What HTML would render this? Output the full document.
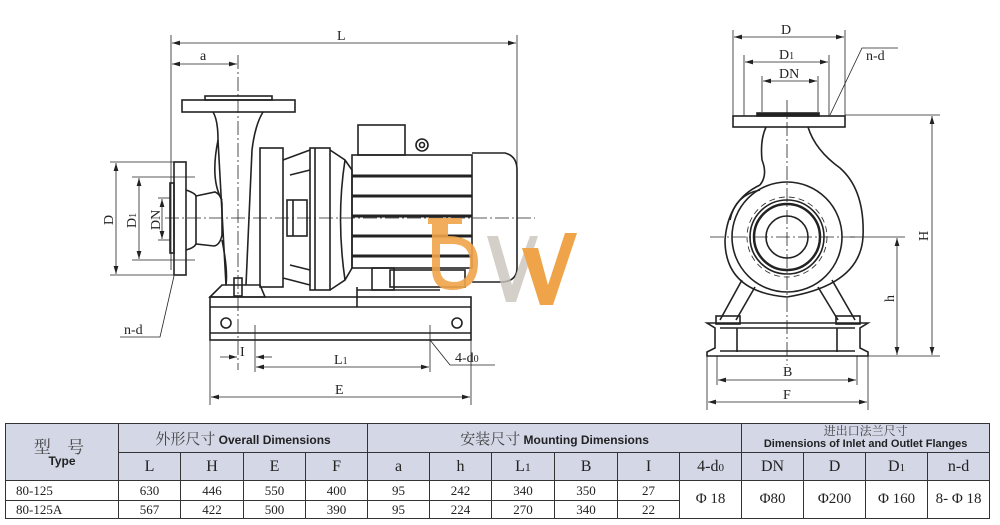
<!DOCTYPE html>
<html><head><meta charset="utf-8"><style>
body{margin:0;background:#fff;width:1000px;height:525px;overflow:hidden;position:relative;font-family:"Liberation Serif","Noto Serif CJK SC",serif}
svg{position:absolute;left:0;top:0}
table{position:absolute;left:5px;top:423px;border-collapse:collapse;width:985px;table-layout:fixed}
td{border:1.5px solid #333;text-align:center;padding:0;font-size:13px;color:#222;line-height:1}
.h{background:#d3d7e6}
.s{font-family:"Liberation Sans","Noto Sans CJK SC",sans-serif;font-weight:bold;font-size:12px}
.c{font-family:"Noto Serif CJK SC",serif;font-size:14px;font-weight:normal;color:#444}
</style></head><body>
<svg width="1000" height="420" viewBox="0 0 1000 420" fill="none" stroke="#222" stroke-width="1" font-family="Liberation Serif, serif" font-size="14">
<defs><marker id="a" markerWidth="10" markerHeight="6" refX="10" refY="3" orient="auto-start-reverse"><path d="M0,0L10,3L0,6z" fill="#222" stroke="none"/></marker></defs>
<g stroke-width="0.8">
<!-- L / a -->
<line x1="171" y1="35" x2="171" y2="270"/><line x1="517" y1="35" x2="517" y2="200"/>
<line x1="172" y1="43" x2="516" y2="43" marker-start="url(#a)" marker-end="url(#a)"/>
<line x1="172" y1="64" x2="237" y2="64" marker-start="url(#a)" marker-end="url(#a)"/>
<line x1="238" y1="55" x2="238" y2="370" stroke-dasharray="14,3,2,3"/>
<line x1="165" y1="218" x2="535" y2="218" stroke-dasharray="14,3,2,3"/>
<!-- D dims -->
<line x1="110" y1="162" x2="174" y2="162"/><line x1="110" y1="275" x2="174" y2="275"/>
<line x1="116" y1="163" x2="116" y2="274" marker-start="url(#a)" marker-end="url(#a)"/>
<line x1="132" y1="177" x2="195" y2="177"/><line x1="132" y1="260" x2="195" y2="260"/>
<line x1="139" y1="178" x2="139" y2="259" marker-start="url(#a)" marker-end="url(#a)"/>
<line x1="158" y1="198" x2="170" y2="198"/><line x1="158" y1="240" x2="170" y2="240"/>
<line x1="162" y1="199" x2="162" y2="239" marker-start="url(#a)" marker-end="url(#a)"/>
<polyline points="174,276 160,337 120,337"/>
<!-- bottom dims -->
<line x1="210" y1="340" x2="210" y2="405"/><line x1="471" y1="340" x2="471" y2="405"/>
<line x1="255" y1="325" x2="255" y2="372"/><line x1="430" y1="325" x2="430" y2="372"/>
<line x1="220" y1="357" x2="237" y2="357" marker-end="url(#a)"/><line x1="272" y1="357" x2="256" y2="357" marker-end="url(#a)"/>
<line x1="256" y1="367" x2="429" y2="367" marker-start="url(#a)" marker-end="url(#a)"/>
<line x1="211" y1="397" x2="470" y2="397" marker-start="url(#a)" marker-end="url(#a)"/>
<polyline points="430,340 450,365 495,365"/>
</g>
<g fill="#222" stroke="none">
<text x="337" y="40">L</text><text x="200" y="60">a</text>
<text x="240" y="356">I</text><text x="334" y="364">L<tspan font-size="10">1</tspan></text>
<text x="335" y="394">E</text><text x="455" y="362">4-d<tspan font-size="10">0</tspan></text>
<text x="124" y="334">n-d</text>
<text transform="translate(113,225) rotate(-90)">D</text>
<text transform="translate(136,228) rotate(-90)">D<tspan font-size="10">1</tspan></text>
<text transform="translate(160,230) rotate(-90)">DN</text>
</g>
<g stroke-width="1.6">
<!-- outlet flange & casing -->
<rect x="182" y="100" width="113" height="12"/><rect x="205" y="96" width="67" height="4"/>
<path d="M213,112 Q218,120 218,140 L226,285 M263,112 Q255,125 252,150 L246,285"/>
<rect x="260" y="148" width="23" height="139"/>
<!-- inlet -->
<rect x="174" y="162" width="12" height="113"/><rect x="170" y="183" width="4" height="70"/>
<path d="M186,190 Q195,193 196,196 L215,192 Q222,195 222,205 L222,235 Q220,245 214,246 L196,244 Q194,248 186,250"/>
<line x1="196" y1="196" x2="196" y2="244"/>
<path d="M218,140 Q210,180 222,200 M222,240 Q228,270 226,285"/>
<!-- pump foot -->
<path d="M210,297 L222,285 L260,285 L265,297 Z"/><rect x="234" y="278" width="8" height="18"/>
<!-- bracket -->
<path d="M283,160 L310,150 M283,278 L310,285 M290,175 L310,170 M290,265 L310,270"/>
<rect x="287" y="200" width="20" height="36"/><line x1="293" y1="200" x2="293" y2="236"/>
<rect x="310" y="148" width="20" height="142"/><line x1="315" y1="148" x2="315" y2="290"/>
<path d="M330,150 L345,160 L352,170 L352,268 L345,280 L330,290"/><path d="M345,160 Q336,218 345,280"/>
<!-- motor -->
<rect x="352" y="155" width="120" height="113"/>
<line x1="352" y1="176" x2="472" y2="176" stroke-width="3"/><line x1="352" y1="196" x2="472" y2="196" stroke-width="3"/>
<line x1="352" y1="216" x2="472" y2="216" stroke-width="3"/><line x1="352" y1="236" x2="472" y2="236" stroke-width="3"/>
<line x1="352" y1="256" x2="472" y2="256" stroke-width="3"/>
<path d="M472,153 L505,153 Q517,156 517,170 L517,268 Q517,282 500,282 L472,282"/>
<rect x="358" y="125" width="47" height="30"/><circle cx="422" cy="145" r="6"/><circle cx="422" cy="145" r="2.5"/>
<rect x="372" y="268" width="22" height="22"/><rect x="390" y="270" width="75" height="17"/>
<line x1="357" y1="287" x2="357" y2="307"/><line x1="357" y1="290" x2="440" y2="290"/>
<!-- base -->
<rect x="210" y="297" width="261" height="43"/>
<line x1="210" y1="307" x2="471" y2="307"/><line x1="210" y1="333" x2="471" y2="333"/>
<circle cx="226" cy="323" r="5"/><circle cx="457" cy="323" r="5"/>
</g>
<!-- right view dims -->
<g stroke-width="0.8">
<line x1="733" y1="30" x2="733" y2="116"/><line x1="845" y1="30" x2="845" y2="116"/>
<line x1="734" y1="37" x2="844" y2="37" marker-start="url(#a)" marker-end="url(#a)"/>
<line x1="744" y1="55" x2="744" y2="116"/><line x1="829" y1="55" x2="829" y2="116"/>
<line x1="745" y1="62" x2="828" y2="62" marker-start="url(#a)" marker-end="url(#a)"/>
<line x1="762" y1="76" x2="762" y2="112"/><line x1="818" y1="76" x2="818" y2="112"/>
<line x1="763" y1="81" x2="817" y2="81" marker-start="url(#a)" marker-end="url(#a)"/>
<polyline points="830,115 862,48 898,48"/>
<line x1="845" y1="115" x2="940" y2="115"/><line x1="868" y1="356" x2="940" y2="356"/>
<line x1="932" y1="116" x2="932" y2="355" marker-start="url(#a)" marker-end="url(#a)"/>
<line x1="850" y1="237" x2="905" y2="237"/>
<line x1="897" y1="238" x2="897" y2="355" marker-start="url(#a)" marker-end="url(#a)"/>
<line x1="707" y1="356" x2="707" y2="410"/><line x1="868" y1="356" x2="868" y2="410"/>
<line x1="717" y1="356" x2="717" y2="385"/><line x1="857" y1="356" x2="857" y2="385"/>
<line x1="718" y1="380" x2="856" y2="380" marker-start="url(#a)" marker-end="url(#a)"/>
<line x1="708" y1="402" x2="867" y2="402" marker-start="url(#a)" marker-end="url(#a)"/>
<line x1="787" y1="100" x2="787" y2="365" stroke-dasharray="14,3,2,3"/>
<line x1="710" y1="237" x2="855" y2="237" stroke-dasharray="14,3,2,3"/>
<circle cx="787" cy="237" r="40" stroke-dasharray="6,4"/>
</g>
<g fill="#222" stroke="none">
<text x="781" y="34">D</text><text x="779" y="59">D<tspan font-size="10">1</tspan></text>
<text x="779" y="78">DN</text><text x="866" y="60">n-d</text>
<text x="783" y="376">B</text><text x="783" y="399">F</text>
<text transform="translate(928,241) rotate(-90)">H</text>
<text transform="translate(894,302) rotate(-90)">h</text>
</g>
<g stroke-width="1.6">
<rect x="733" y="116" width="112" height="11"/><rect x="757" y="113" width="62" height="3" fill="#222"/>
<path d="M766,127 Q760,140 762,160 Q768,175 760,185 M808,127 Q815,150 840,168 Q865,190 863,237 Q860,285 787,297 Q725,292 725,240 Q728,200 760,185"/>
<circle cx="787" cy="237" r="55"/><path d="M760,190 Q735,195 730,220"/>
<circle cx="787" cy="237" r="37"/><circle cx="787" cy="237" r="33" stroke-width="2.5"/><circle cx="787" cy="237" r="21"/>
<path d="M742,280 L720,320 M755,287 L736,320 M818,287 L838,320 M832,280 L855,320"/>
<rect x="716" y="316" width="24" height="8"/><rect x="836" y="316" width="24" height="8"/>
<path d="M707,323 L868,323 L860,328 L860,348 L868,352 L868,356 L707,356 L707,352 L715,348 L715,328 Z"/>
<line x1="737" y1="328" x2="737" y2="352"/><line x1="837" y1="328" x2="837" y2="352"/>
<line x1="720" y1="328" x2="855" y2="328"/><line x1="720" y1="351" x2="855" y2="351"/>
</g>
<!-- logo -->
<g stroke="none">
<path d="M487,236 L498,236 L512,285 L530,236 L538,236 L516,302 L506,302 Z" fill="#c9c3bb" opacity="0.8"/>
<path d="M522,248 L538,248 L548,285 L565,233 L577,233 L553,305 L540,305 Z" fill="#f0a44a"/>
<path d="M428,218 L462,218 L462,224 L448,224 L448,236 Q478,236 478,262 Q478,290 452,290 Q432,290 432,268 L432,224 L428,224 Z M440,250 L440,268 Q440,282 454,282 Q470,282 470,262 Q470,244 452,244 L440,244 Z" fill="#f0a44a" opacity="0.9"/>
</g>
</svg>
<table>
<colgroup><col style="width:113px"><col style="width:62px"><col style="width:63px"><col style="width:62px"><col style="width:62px"><col style="width:62px"><col style="width:62px"><col style="width:63px"><col style="width:63px"><col style="width:62px"><col style="width:62px"><col style="width:62px"><col style="width:62px"><col style="width:62px"><col style="width:62px"></colgroup>
<tr style="height:29px"><td class="h s" rowspan="2" style="font-weight:bold"><span class="c" style="font-size:17px;letter-spacing:6px">型 号</span><br>Type</td><td class="h s" colspan="4"><span class="c" style="font-size:15px">外形尺寸</span> Overall Dimensions</td><td class="h s" colspan="6"><span class="c" style="font-size:15px">安装尺寸</span> Mounting Dimensions</td><td class="h s" colspan="4" style="font-size:11px;line-height:1.05"><span class="c" style="font-size:12px">进出口法兰尺寸</span><br>Dimensions of Inlet and Outlet Flanges</td></tr>
<tr style="height:28px" class="h"><td class="h" style="font-size:16px">L</td><td class="h" style="font-size:16px">H</td><td class="h" style="font-size:16px">E</td><td class="h" style="font-size:16px">F</td><td class="h" style="font-size:16px">a</td><td class="h" style="font-size:16px">h</td><td class="h" style="font-size:16px">L<span style="font-size:12px">1</span></td><td class="h" style="font-size:16px">B</td><td class="h" style="font-size:16px">I</td><td style="font-size:16px">4-d<span style="font-size:11px">0</span></td><td style="font-size:16px">DN</td><td style="font-size:16px">D</td><td style="font-size:16px">D<span style="font-size:11px">1</span></td><td style="font-size:16px">n-d</td></tr>
<tr style="height:20px"><td style="text-align:left;padding-left:10px">80-125</td><td>630</td><td>446</td><td>550</td><td>400</td><td>95</td><td>242</td><td>340</td><td>350</td><td>27</td><td rowspan="2" style="font-size:15px">Φ 18</td><td rowspan="2" style="font-size:15px">Φ80</td><td rowspan="2" style="font-size:15px">Φ200</td><td rowspan="2" style="font-size:15px">Φ 160</td><td rowspan="2" style="font-size:15px">8- Φ 18</td></tr>
<tr style="height:18px"><td style="text-align:left;padding-left:10px">80-125A</td><td>567</td><td>422</td><td>500</td><td>390</td><td>95</td><td>224</td><td>270</td><td>340</td><td>22</td></tr>
</table>
</body></html>
